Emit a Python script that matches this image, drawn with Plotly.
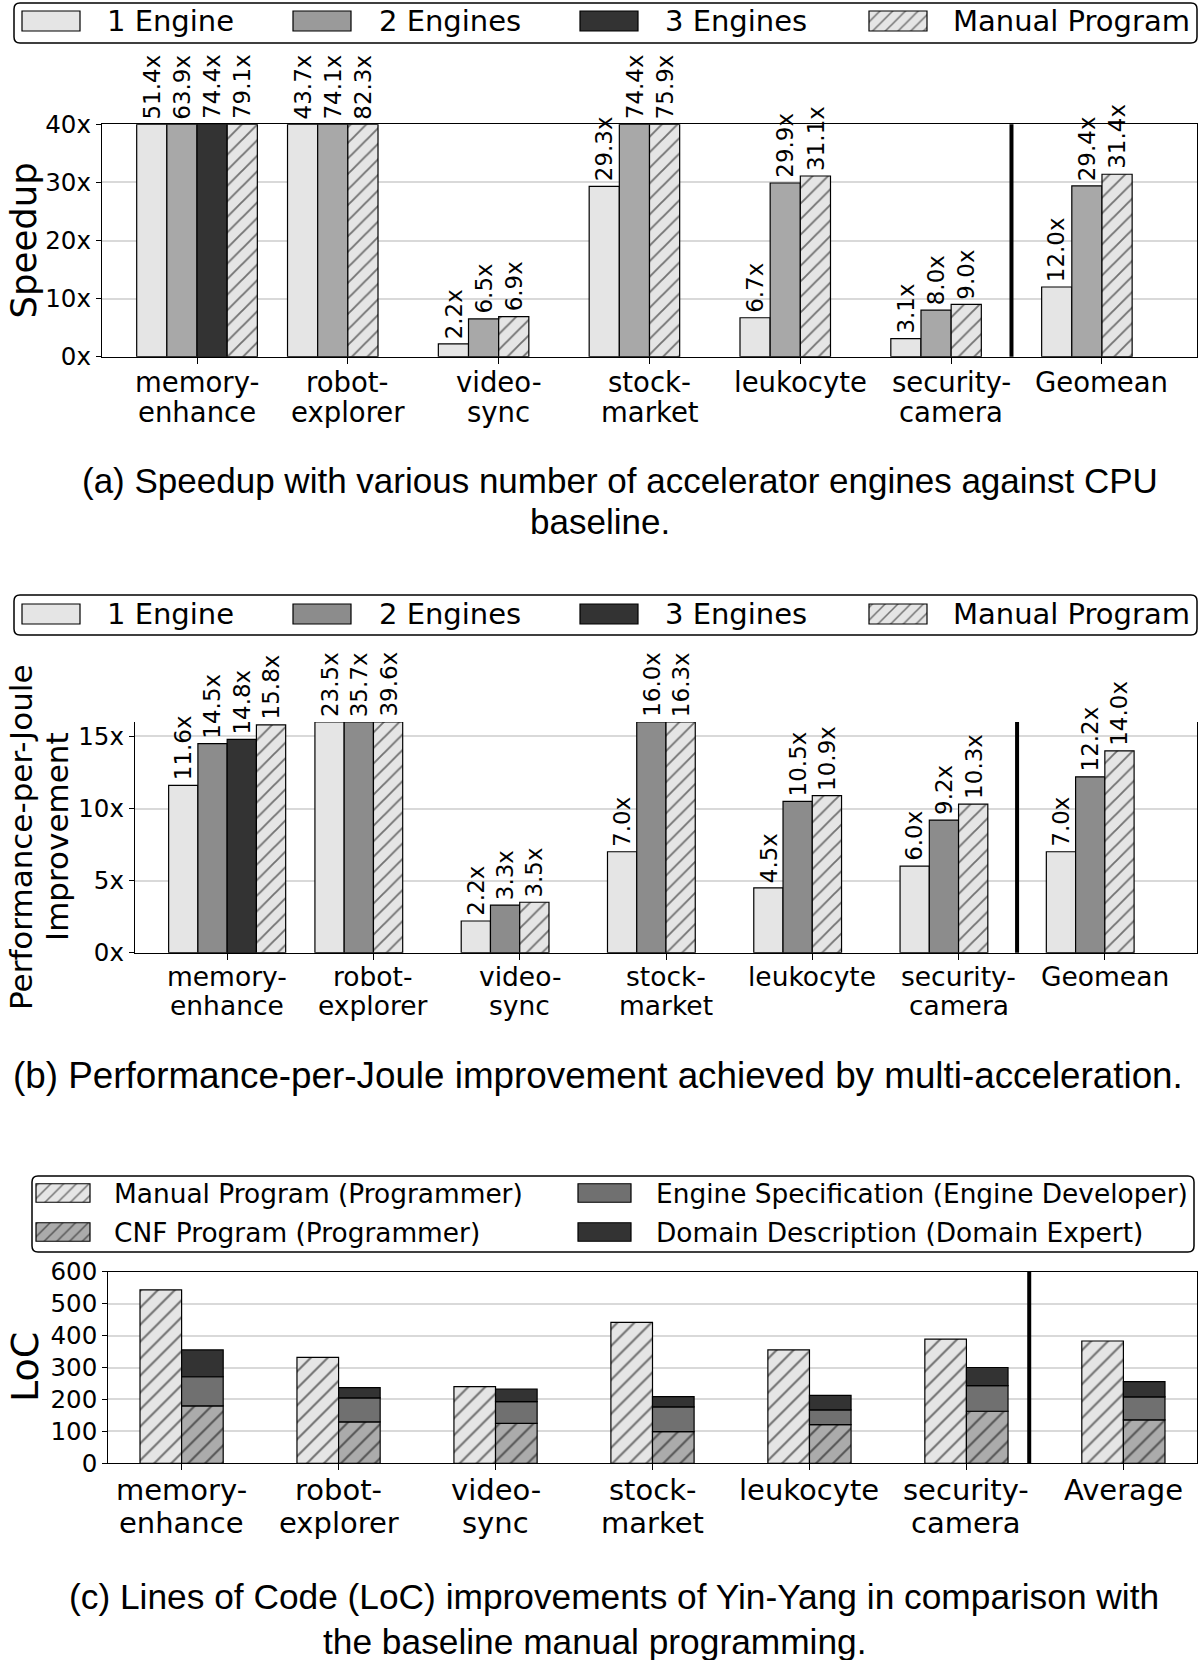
import plotly.graph_objects as go

FIG_W, FIG_H = 1200, 1660

# ---------------- data ----------------
categories_ab = ["memory-\nenhance", "robot-\nexplorer", "video-\nsync", "stock-\nmarket",
                 "leukocyte", "security-\ncamera", "Geomean"]
categories_c = ["memory-\nenhance", "robot-\nexplorer", "video-\nsync", "stock-\nmarket",
                "leukocyte", "security-\ncamera", "Average"]

engine_names = ["1 Engine", "2 Engines", "3 Engines", "Manual Program"]

speedup_1_engine = [51.4, 43.7, 2.2, 29.3, 6.7, 3.1, 12.0]
speedup_2_engines = [63.9, 74.1, 6.5, 74.4, 29.9, 8.0, 29.4]
speedup_3_engines = [74.4, None, None, None, None, None, None]
speedup_manual = [79.1, 82.3, 6.9, 75.9, 31.1, 9.0, 31.4]

ppj_1_engine = [11.6, 23.5, 2.2, 7.0, 4.5, 6.0, 7.0]
ppj_2_engines = [14.5, 35.7, 3.3, 16.0, 10.5, 9.2, 12.2]
ppj_3_engines = [14.8, None, None, None, None, None, None]
ppj_manual = [15.8, 39.6, 3.5, 16.3, 10.9, 10.3, 14.0]

loc_names = ["Manual Program (Programmer)", "CNF Program (Programmer)",
             "Engine Specification (Engine Developer)", "Domain Description (Domain Expert)"]
loc_manual = [543, 332, 240, 441, 355, 389, 383]
loc_cnf = [180, 130, 125, 99, 121, 163, 136]
loc_engine_spec = [91, 75, 68, 78, 46, 80, 72]
loc_domain_desc = [84, 32, 39, 32, 46, 57, 48]

yticks_a = [0, 10, 20, 30, 40]
yticks_b = [0, 5, 10, 15]
yticks_c = [0, 100, 200, 300, 400, 500, 600]

captions = {
    "a": ["(a) Speedup with various number of accelerator engines against CPU", "baseline."],
    "b": ["(b) Performance-per-Joule improvement achieved by multi-acceleration."],
    "c": ["(c) Lines of Code (LoC) improvements of Yin-Yang in comparison with",
          "the baseline manual programming."],
}

# ---------------- style / layout constants ----------------
FONT = "DejaVu Sans"
CAP_FONT = "Liberation Sans, Arial, Helvetica, sans-serif"
C_LIGHT = "#e5e5e5"
C_MID_A = "#a8a8a8"
C_MID_A_LEG = "#9a9a9a"
C_MID_B = "#8c8c8c"
C_DARK = "#333333"
C_CNF = "#ababab"
C_ES = "#707070"
GRID = "#d9d9d9"
EDGE = dict(color="black", width=1.2)
SLOT_W = 0.2          # bar width for engine panels
LOC_W = 0.265         # bar width for LoC panel
SEP_X = 5.4           # separator between benchmarks and summary group
XR_AB = [-0.63, 6.63]
XR_C = [-0.467, 6.467]


def hatch(bg, size=11):
    return dict(shape="/", fgcolor="black", bgcolor=bg, size=size, solidity=0.17, fillmode="overlay")


def mk(color, hatched=False, size=11):
    m = dict(color=color, line=EDGE)
    if hatched:
        m["pattern"] = hatch(color, size)
    return m


fig = go.Figure()

# panel geometry in pixels (left, right, top, bottom)
geo = {
    "a": dict(l=102, r=1197, t=124.3, b=356.7, ax="", ymax=40),
    "b": dict(l=135, r=1197, t=722.0, b=952.7, ax="2", ymax=16),
    "c": dict(l=108.3, r=1196.7, t=1271.7, b=1463.3, ax="3", ymax=600),
}


def xaxis_cfg(g, xr, mirror, n):
    return dict(domain=[g["l"] / FIG_W, g["r"] / FIG_W], range=xr, anchor="y" + g["ax"],
                tickvals=list(range(n)), showticklabels=False, ticks="outside", ticklen=6,
                tickwidth=1.2, tickcolor="black", showline=True, linecolor="black", linewidth=1.3,
                mirror=mirror, showgrid=False, zeroline=False, fixedrange=True, automargin=False)


def yaxis_cfg(g, tickvals, suffix):
    return dict(domain=[1 - g["b"] / FIG_H, 1 - g["t"] / FIG_H], range=[0, g["ymax"]],
                anchor="x" + g["ax"], tickvals=tickvals, ticktext=[f"{v}{suffix}" for v in tickvals],
                ticks="outside", ticklen=5, tickwidth=1.2, tickcolor="black", ticklabelstandoff=0,
                tickfont=dict(size=24.5, family=FONT, color="black"),
                showline=True, linecolor="black", linewidth=1.3, mirror=True,
                showgrid=True, gridcolor=GRID, gridwidth=1.5, zeroline=False, fixedrange=True,
                automargin=False)


def engine_panel(key, series, colors, hatched_flags):
    g = geo[key]
    xref, yref = "x" + g["ax"], "y" + g["ax"]
    nslot = len(series)
    for s, (name, vals) in enumerate(zip(engine_names, series)):
        xs, ys, labels = [], [], []
        for i, v in enumerate(vals):
            if v is None:
                continue
            present = [k for k in range(nslot) if series[k][i] is not None]
            slot = present.index(s)
            xs.append(i + (slot - (nslot - 1) / 2) * SLOT_W)
            ys.append(min(v, g["ymax"]))
            labels.append(f"{v:.1f}x")
        fig.add_trace(go.Bar(x=xs, y=ys, width=SLOT_W, name=name, xaxis=xref, yaxis=yref,
                             marker=mk(colors[s], hatched_flags[s]), showlegend=False))
        for x, y, t in zip(xs, ys, labels):
            fig.add_annotation(x=x, y=y, xref=xref, yref=yref, text=t, textangle=-90,
                               showarrow=False, xanchor="center", yanchor="bottom", yshift=3,
                               font=dict(size=23, family=FONT, color="black"))


engine_panel("a", [speedup_1_engine, speedup_2_engines, speedup_3_engines, speedup_manual],
             [C_LIGHT, C_MID_A, C_DARK, C_LIGHT], [False, False, False, True])
engine_panel("b", [ppj_1_engine, ppj_2_engines, ppj_3_engines, ppj_manual],
             [C_LIGHT, C_MID_B, C_DARK, C_LIGHT], [False, False, False, True])

# LoC panel
n_c = len(categories_c)
x_man = [i - LOC_W / 2 for i in range(n_c)]
x_stk = [i + LOC_W / 2 for i in range(n_c)]
fig.add_trace(go.Bar(x=x_man, y=loc_manual, width=LOC_W, name=loc_names[0], xaxis="x3", yaxis="y3",
                     marker=mk(C_LIGHT, True, 12), showlegend=False))
base = [0] * n_c
for name, vals, col, hat in [(loc_names[1], loc_cnf, C_CNF, True),
                             (loc_names[2], loc_engine_spec, C_ES, False),
                             (loc_names[3], loc_domain_desc, C_DARK, False)]:
    fig.add_trace(go.Bar(x=x_stk, y=vals, base=list(base), width=LOC_W, name=name,
                         xaxis="x3", yaxis="y3", marker=mk(col, hat, 12), showlegend=False))
    base = [b + v for b, v in zip(base, vals)]

# ---------------- category labels ----------------
def cat_labels(key, cats, y1, y2, size):
    g = geo[key]
    for i, c in enumerate(cats):
        for line, yy in zip(c.split("\n"), (y1, y2)):
            fig.add_annotation(x=i, y=yy, xref="x" + g["ax"], yref="y4", text=line, showarrow=False,
                               xanchor="center", yanchor="middle",
                               font=dict(size=size, family=FONT, color="black"))


cat_labels("a", categories_ab, 382, 412, 27.5)
cat_labels("b", categories_ab, 976, 1005, 26.5)
cat_labels("c", categories_c, 1490, 1523, 29)

# ---------------- separators ----------------
for key in "abc":
    ax = geo[key]["ax"]
    fig.add_shape(type="line", xref="x" + ax, yref=f"y{ax} domain", x0=SEP_X, x1=SEP_X, y0=0, y1=1,
                  line=dict(color="black", width=4), layer="above")

# ---------------- y-axis titles (paper coords) ----------------
def ytitle(text, x, y, size, anchor="center"):
    fig.add_annotation(x=x / FIG_W, y=1 - y / FIG_H, xref="paper", yref="paper", text=text,
                       textangle=-90, showarrow=False, xanchor=anchor, yanchor="middle",
                       font=dict(size=size, family=FONT, color="black"))


ytitle("Speedup", 1, 241, 35.5, "left")
ytitle("Performance-per-Joule", 1, 837, 31, "left")
ytitle("Improvement", 57, 837, 31)
ytitle("LoC", 1, 1367, 38, "left")

# ---------------- captions ----------------
for key, xs, ys, fs in [("a", [620, 600], [480, 521], 35.0),
                        ("b", [598], [1075], 36.8),
                        ("c", [614, 594], [1596, 1641], 35.3)]:
    for line, xx, yy in zip(captions[key], xs, ys):
        fig.add_annotation(x=xx, y=yy, xref="x4", yref="y4", text=line, showarrow=False,
                           xanchor="center", yanchor="middle",
                           font=dict(size=fs, family=CAP_FONT, color="black"))

# ---------------- custom legends (drawn on a pixel canvas axis) ----------------
def rounded_rect(x0, y0, x1, y1, r=6):
    return (f"M{x0 + r},{y0} L{x1 - r},{y0} Q{x1},{y0} {x1},{y0 + r} L{x1},{y1 - r} "
            f"Q{x1},{y1} {x1 - r},{y1} L{x0 + r},{y1} Q{x0},{y1} {x0},{y1 - r} "
            f"L{x0},{y0 + r} Q{x0},{y0} {x0 + r},{y0} Z")


def legend(box, items, font_size, sw_h):
    fig.add_shape(type="path", xref="x4", yref="y4", path=rounded_rect(*box),
                  line=dict(color="black", width=1.5), fillcolor="white", layer="below")
    for (label, col, hat, sx0, sx1, cy, tx) in items:
        fig.add_trace(go.Bar(y=[cy], x=[sx1 - sx0], base=[sx0], width=[sw_h], orientation="h",
                             xaxis="x4", yaxis="y4", marker=mk(col, hat, 9), showlegend=False,
                             hoverinfo="skip"))
        fig.add_annotation(x=tx, y=cy, xref="x4", yref="y4", text=label, showarrow=False,
                           xanchor="left", yanchor="middle",
                           font=dict(size=font_size, family=FONT, color="black"))


SW_X = [(22, 80), (293, 351), (580, 638), (869, 927)]
TX_X = [105, 377, 663, 951]
for (box, cy, mid) in [((14, 3, 1197, 43), 21, C_MID_A_LEG), ((14, 595, 1197, 635), 614, C_MID_B)]:
    cols = [C_LIGHT, mid, C_DARK, C_LIGHT]
    hats = [False, False, False, True]
    legend(box, [(engine_names[k], cols[k], hats[k], SW_X[k][0], SW_X[k][1], cy, TX_X[k])
                 for k in range(4)], 29, 20)

loc_cols = [C_LIGHT, C_CNF, C_ES, C_DARK]
loc_hats = [True, True, False, False]
loc_pos = [(36, 90, 1193, 112), (36, 90, 1232, 112), (578, 631, 1193, 654), (578, 631, 1232, 654)]
legend((32, 1176, 1194, 1252),
       [(loc_names[k], loc_cols[k], loc_hats[k], loc_pos[k][0], loc_pos[k][1], loc_pos[k][2], loc_pos[k][3])
        for k in range(4)], 26.4, 18.5)

# ---------------- layout ----------------
fig.update_layout(
    width=FIG_W, height=FIG_H, margin=dict(l=0, r=0, t=0, b=0, pad=0, autoexpand=False),
    paper_bgcolor="white", plot_bgcolor="rgba(0,0,0,0)", barmode="overlay", showlegend=False,
    font=dict(family=FONT, color="black"),
    xaxis=xaxis_cfg(geo["a"], XR_AB, True, len(categories_ab)),
    yaxis=yaxis_cfg(geo["a"], yticks_a, "x"),
    xaxis2=xaxis_cfg(geo["b"], XR_AB, False, len(categories_ab)),
    yaxis2=yaxis_cfg(geo["b"], yticks_b, "x"),
    xaxis3=xaxis_cfg(geo["c"], XR_C, True, len(categories_c)),
    yaxis3=yaxis_cfg(geo["c"], yticks_c, ""),
    xaxis4=dict(domain=[0, 1], range=[0, FIG_W], visible=False, anchor="y4", fixedrange=True,
                automargin=False),
    yaxis4=dict(domain=[0, 1], range=[FIG_H, 0], visible=False, anchor="x4", fixedrange=True,
                automargin=False),
)

fig.write_html("out.html", config={"displayModeBar": False},
               post_script="document.body.style.margin='0px';document.body.style.overflow='hidden';")
